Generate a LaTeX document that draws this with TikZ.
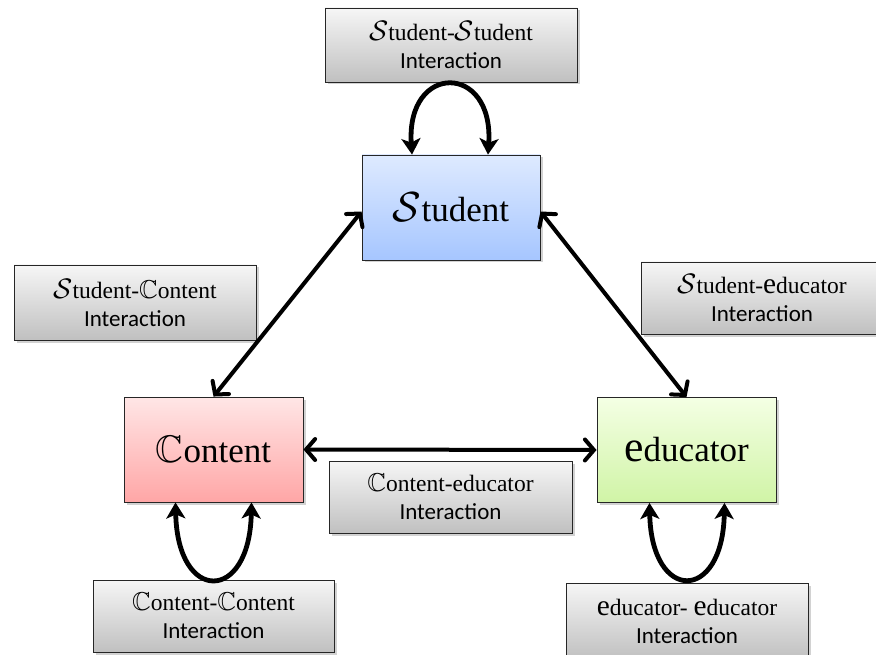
\RequirePackage{fix-cm}
\documentclass[tikz,border=0pt]{standalone}
\usepackage{amssymb}
\usepackage{fontspec}
\setmainfont{Liberation Serif}
\newfontfamily\calib{Carlito}
\usetikzlibrary{shadows,arrows.meta}
\newcommand{\scrS}{{\fontsize{1.2em}{1em}\selectfont$\mathcal{S}$}}
\newcommand{\dbC}{{\fontsize{1.1em}{1em}\selectfont$\mathbb{C}$}}
\newcommand{\bigE}{{\fontsize{1.25em}{1em}\selectfont e}}
\newcommand{\inter}{{\calib\fontsize{23}{28}\selectfont Interaction}}
\definecolor{stTop}{RGB}{222,234,255}
\definecolor{stBot}{RGB}{166,198,255}
\definecolor{coTop}{RGB}{255,230,230}
\definecolor{coBot}{RGB}{255,166,166}
\definecolor{edTop}{RGB}{244,255,228}
\definecolor{edBot}{RGB}{208,244,166}
\definecolor{grTop}{RGB}{246,246,246}
\definecolor{grBot}{RGB}{192,192,192}
\tikzset{
  box/.style={rectangle, draw=black!85, line width=0.9pt, align=center,
    drop shadow={shadow xshift=2.5pt, shadow yshift=-2.5pt, opacity=0.35}},
  graybox/.style={box, top color=grTop, bottom color=grBot,
    font=\fontsize{23.5}{28}\selectfont, inner sep=0pt},
  mainbox/.style={box, minimum width=179pt, minimum height=105pt,
    font=\fontsize{35}{40}\selectfont, inner sep=0pt},
  conn/.style={line width=4pt, {Straight Barb[length=9pt,width=21pt,line cap=round]}-{Straight Barb[length=9pt,width=21pt,line cap=round]}},
  loopc/.style={line width=4.8pt, {Stealth[length=16pt,width=19pt,inset=4pt]}-{Stealth[length=16pt,width=19pt,inset=4pt]}},
}
\begin{document}
\begin{tikzpicture}[x=1pt,y=-1pt]
\useasboundingbox (0,0) rectangle (876,655);
\fill[white] (0,0) rectangle (876,655);
% main boxes
\node[mainbox, minimum width=178pt, top color=stTop, bottom color=stBot] (student) at (451,207.5) {\scrS tudent};
\node[mainbox, top color=coTop, bottom color=coBot] (content) at (213.5,449.5) {\dbC ontent};
\node[mainbox, top color=edTop, bottom color=edBot] (educator) at (686.5,450) {\bigE ducator};
% interaction boxes
\node[graybox, minimum width=252pt, minimum height=74pt] (ss) at (451,45)
  {\scrS tudent-\scrS tudent\\ \inter};
\node[graybox, minimum width=242pt, minimum height=75pt] (sc) at (135,302.5)
  {\scrS tudent-\dbC ontent\\ \inter};
\node[graybox, minimum width=242pt, minimum height=72pt] (se) at (762,298)
  {\scrS tudent-\bigE ducator\\ \inter};
\node[graybox, minimum width=243pt, minimum height=72pt] (ce) at (450.5,497)
  {\dbC ontent-educator\\ \inter};
\node[graybox, minimum width=241pt, minimum height=72pt] (cc) at (213.5,616)
  {\dbC ontent-\dbC ontent\\ \inter};
\node[graybox, minimum width=242pt, minimum height=76pt] (ee) at (687,621)
  {\bigE ducator-\ \bigE ducator\\ \inter};
% connectors
\draw[conn] ([yshift=-4pt]student.west) -- (content.north);
\draw[conn] ([yshift=-4pt]student.east) -- (educator.north);
\draw[conn] (content.east) -- (educator.west);
% loops
\draw[loopc] ([xshift=-39pt]student.north) .. controls +(-6,-92) and +(6,-92) .. ([xshift=37pt]student.north);
\draw[loopc] ([xshift=-38pt]content.south) .. controls +(2,101) and +(-2,101) .. ([xshift=38pt]content.south);
\draw[loopc] ([xshift=-37pt]educator.south) .. controls +(2,100) and +(-2,100) .. ([xshift=38pt]educator.south);
\end{tikzpicture}
\end{document}
